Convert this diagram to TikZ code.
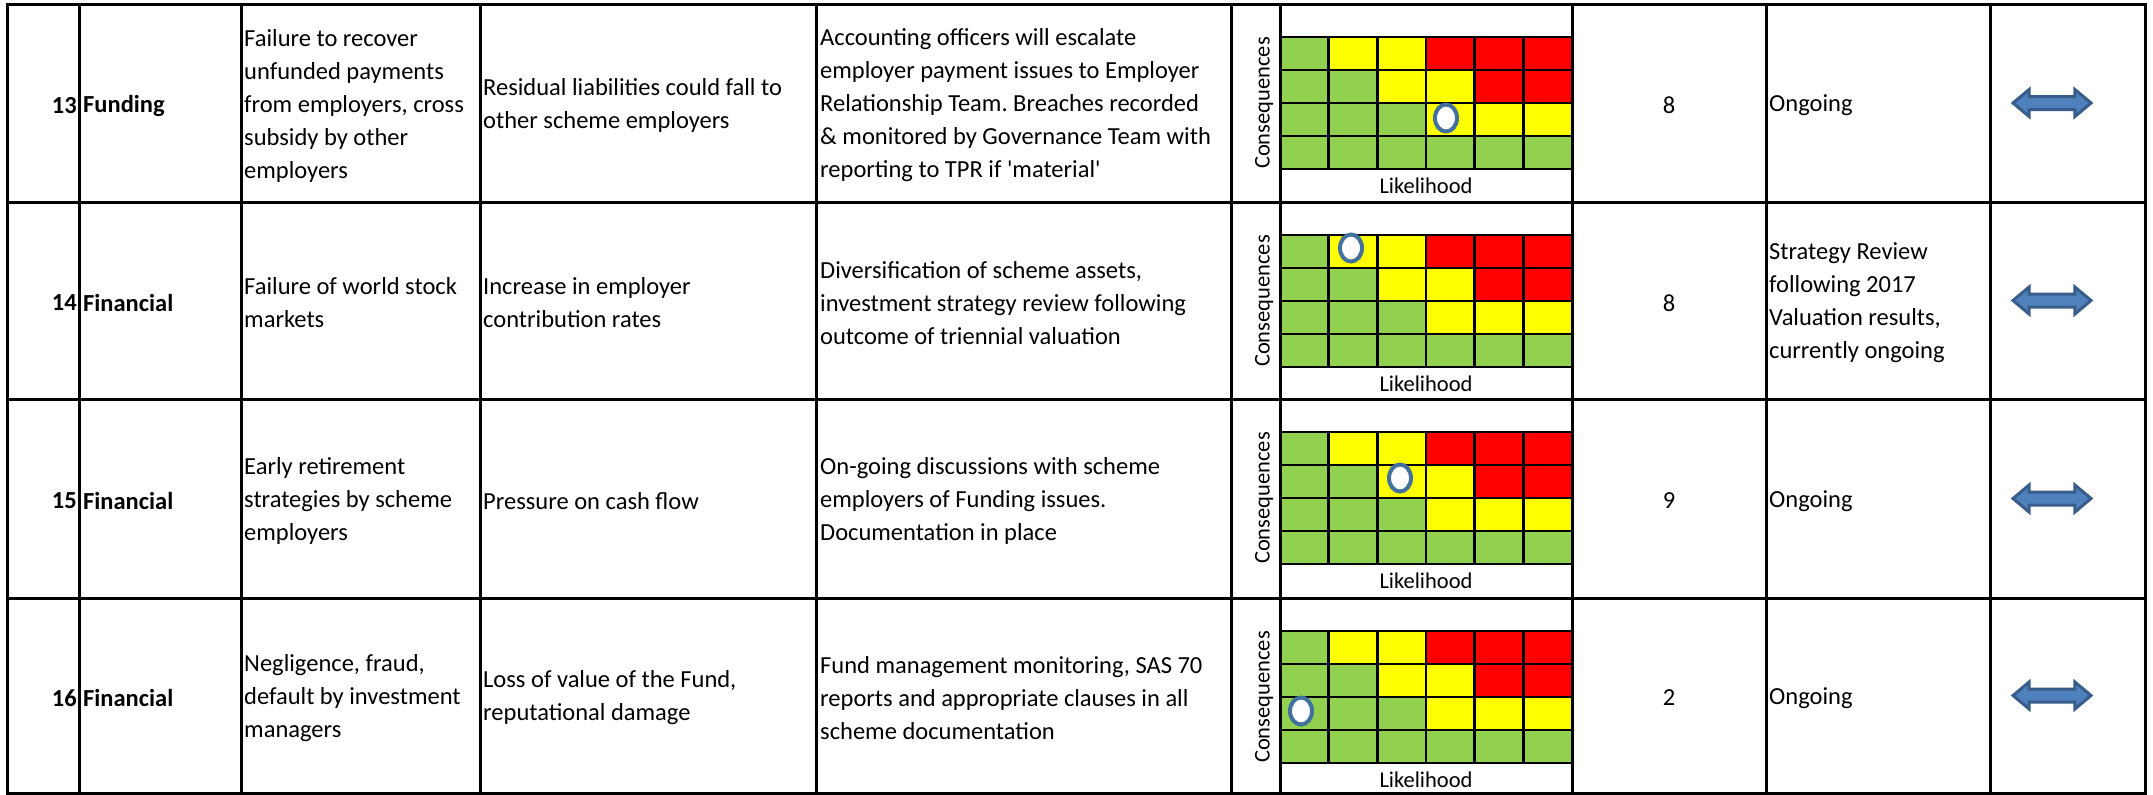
\documentclass[tikz,border=0pt]{standalone}
\usepackage{fontspec}
\setmainfont{Carlito}
\frenchspacing
\usetikzlibrary{shapes.arrows,shapes.geometric}
\definecolor{hg}{HTML}{92D050}
\definecolor{hy}{HTML}{FFFF00}
\definecolor{hr}{HTML}{FF0000}
\definecolor{mk}{HTML}{41719C}
\definecolor{arf}{HTML}{4F81BD}
\definecolor{ard}{HTML}{385D8A}
\tikzset{
  txt/.style={inner sep=0pt, align=left, anchor=west, font=\fontsize{24.5}{33}\selectfont, yshift=-2.5pt},
  num/.style={inner sep=0pt, anchor=east, font=\fontsize{24.5}{33}\selectfont\bfseries, yshift=-2.5pt},
  cat/.style={inner sep=0pt, anchor=west, font=\fontsize{24.5}{33}\selectfont\bfseries, yshift=-2.5pt},
  score/.style={inner sep=0pt, anchor=center, font=\fontsize{24.5}{33}\selectfont, yshift=-2.5pt},
  small/.style={inner sep=0pt, font=\fontsize{22.5}{27}\selectfont},
  marker/.style={draw=mk, fill=white, line width=4pt, ellipse, minimum width=22pt, minimum height=27pt, inner sep=0pt},
  trend/.style={double arrow, draw=ard, fill=arf, line width=3pt, inner sep=5pt, minimum height=78pt,
     double arrow head extend=7pt, double arrow tip angle=80},
  rule/.style={line width=3pt, line cap=rect},
  gridcell/.style={line width=2.8pt, draw=black},
}
\newcommand\heatgrid[4]{% #1 row top, #2 marker x, #3 marker y, #4 name
  \foreach \r/\cols in {0/{hg,hy,hy,hr,hr,hr},1/{hg,hg,hy,hy,hr,hr},2/{hg,hg,hg,hy,hy,hy},3/{hg,hg,hg,hg,hg,hg}}{
    \foreach \cc [count=\c from 0] in \cols {
      \filldraw[gridcell, fill=\cc] (1280+48.67*\c, #1+33+33*\r) rectangle ++(48.67,33);
    }
  }
  \node[small, rotate=90] (cons#4) at (1264, #1+99) {Consequences};
  \node[small] (lik#4) at (1426, #1+182) {Likelihood};
  \node[marker] (mk#4) at (#2,#3) {};
}
\begin{document}
\begin{tikzpicture}[x=1pt,y=-1pt]
\useasboundingbox (0,0) rectangle (2153,795);
\fill[white] (0,0) rectangle (2153,795);

% heat maps
\heatgrid{4}{1446}{118}{a}
\heatgrid{202}{1351}{248}{b}
\heatgrid{399}{1400}{478}{c}
\heatgrid{598}{1301}{711}{d}

% table rules
\foreach \y in {4,202,399,598,793} \draw[rule] (7,\y) -- (2145,\y);
\foreach \x in {7,79,241,480,816,1231,1280,1572,1766,1990,2145} \draw[rule] (\x,4) -- (\x,793);

% Row 13
\node[num] (n13) at (77,103) {13};
\node[cat] (c13) at (83,103) {Funding};
\node[txt] (r13) at (244,103) {Failure to recover\\unfunded payments\\from employers, cross\\subsidy by other\\employers};
\node[txt] (i13) at (483,103) {Residual liabilities could fall to\\other scheme employers};
\node[txt] (m13) at (820,103) {Accounting officers will escalate\\employer payment issues to Employer\\Relationship Team. Breaches recorded\\\& monitored by Governance Team with\\reporting to TPR if \textquotesingle material\textquotesingle};
\node[score] (s13) at (1669,103) {8};
\node[txt] (a13) at (1769,103) {Ongoing};
\node[trend] (t13) at (2052,103) {};

% Row 14
\node[num] (n14) at (77,300.5) {14};
\node[cat] (c14) at (83,300.5) {Financial};
\node[txt] (r14) at (244,300.5) {Failure of world stock\\markets};
\node[txt] (i14) at (483,300.5) {Increase in employer\\contribution rates};
\node[txt] (m14) at (820,300.5) {Diversification of scheme assets,\\investment strategy review following\\outcome of triennial valuation};
\node[score] (s14) at (1669,300.5) {8};
\node[txt] (a14) at (1769,300.5) {Strategy Review\\following 2017\\Valuation results,\\currently ongoing};
\node[trend] (t14) at (2052,300.5) {};

% Row 15
\node[num] (n15) at (77,498.5) {15};
\node[cat] (c15) at (83,498.5) {Financial};
\node[txt] (r15) at (244,498.5) {Early retirement\\strategies by scheme\\employers};
\node[txt] (i15) at (483,498.5) {Pressure on cash flow};
\node[txt] (m15) at (820,498.5) {On-going discussions with scheme\\employers of Funding issues.\\Documentation in place};
\node[score] (s15) at (1669,498.5) {9};
\node[txt] (a15) at (1769,498.5) {Ongoing};
\node[trend] (t15) at (2052,498.5) {};

% Row 16
\node[num] (n16) at (77,695.5) {16};
\node[cat] (c16) at (83,695.5) {Financial};
\node[txt] (r16) at (244,695.5) {Negligence, fraud,\\default by investment\\managers};
\node[txt] (i16) at (483,695.5) {Loss of value of the Fund,\\reputational damage};
\node[txt] (m16) at (820,695.5) {Fund management monitoring, SAS 70\\reports and appropriate clauses in all\\scheme documentation};
\node[score] (s16) at (1669,695.5) {2};
\node[txt] (a16) at (1769,695.5) {Ongoing};
\node[trend] (t16) at (2052,695.5) {};
\end{tikzpicture}
\end{document}
